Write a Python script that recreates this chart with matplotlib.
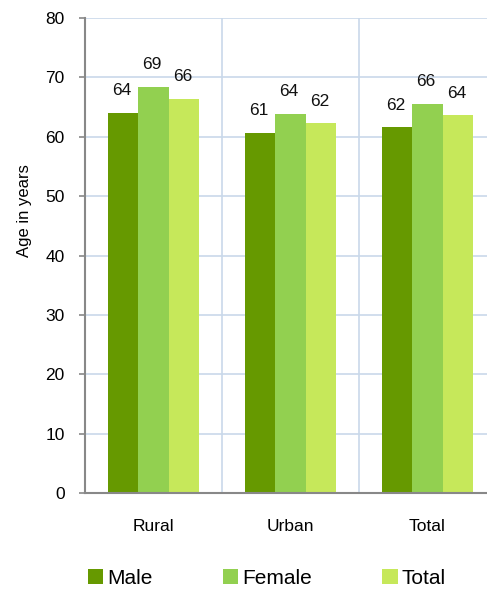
import matplotlib
matplotlib.use("Agg")
import matplotlib.pyplot as plt
import numpy as np

categories = ["Rural", "Urban", "Total"]
series_names = ["Male", "Female", "Total"]
male = [64.0, 60.7, 61.6]
female = [68.4, 63.9, 65.6]
total = [66.4, 62.3, 63.6]
male_labels = ["64", "61", "62"]
female_labels = ["69", "64", "66"]
total_labels = ["66", "62", "64"]
yticks = [0, 10, 20, 30, 40, 50, 60, 70, 80]

colors = ["#669900", "#92d050", "#c6e85a"]

plt.rcParams["font.family"] = ["Liberation Sans", "DejaVu Sans"]

fig = plt.figure(figsize=(4.87, 5.89), dpi=100)
ax = fig.add_axes([85/487, 96/589, 411/487, 475/589])

x = np.arange(len(categories))
w = 0.222
handles = []
for i, (vals, labs) in enumerate(zip([male, female, total], [male_labels, female_labels, total_labels])):
    bars = ax.bar(x + (i - 1) * w, vals, width=w, color=colors[i], label=series_names[i], zorder=3)
    handles.append(bars)
    for b, lab in zip(bars, labs):
        ax.annotate(lab, (b.get_x() + b.get_width() / 2, b.get_height()),
                    xytext=(-1, 10.5), textcoords="offset points",
                    ha="center", va="bottom", fontsize=12.5, color="#111111")

ax.set_xlim(-0.5, 2.5)
ax.set_ylim(0, 80)
ax.set_yticks(yticks)
ax.set_xticks(x)
ax.set_xticklabels(categories, fontsize=12.5)
ax.tick_params(axis="x", length=0, pad=19)
ax.tick_params(axis="y", length=4.5, width=1.2, color="#888888", labelsize=12.5, pad=10)
for s in ["top", "right"]:
    ax.spines[s].set_visible(False)
for s in ["left", "bottom"]:
    ax.spines[s].set_color("#888888")
    ax.spines[s].set_linewidth(1.5)
    ax.spines[s].set_zorder(4)

ax.yaxis.grid(True, color="#c9d8ea", linewidth=1.2, zorder=0)
for xv in [0.5, 1.5]:
    ax.axvline(xv, color="#c9d8ea", linewidth=1.2, zorder=0)
ax.set_ylabel("Age in years", fontsize=12)
ax.yaxis.set_label_coords(-0.128, 0.594)

fig.legend(handles, series_names, loc="center", bbox_to_anchor=(0.548, 1 - 578/589),
           ncol=3, frameon=False, fontsize=15, handlelength=0.75, handleheight=0.75,
           handletextpad=0.2, columnspacing=3.35)

fig.savefig("out.png", dpi=100)
